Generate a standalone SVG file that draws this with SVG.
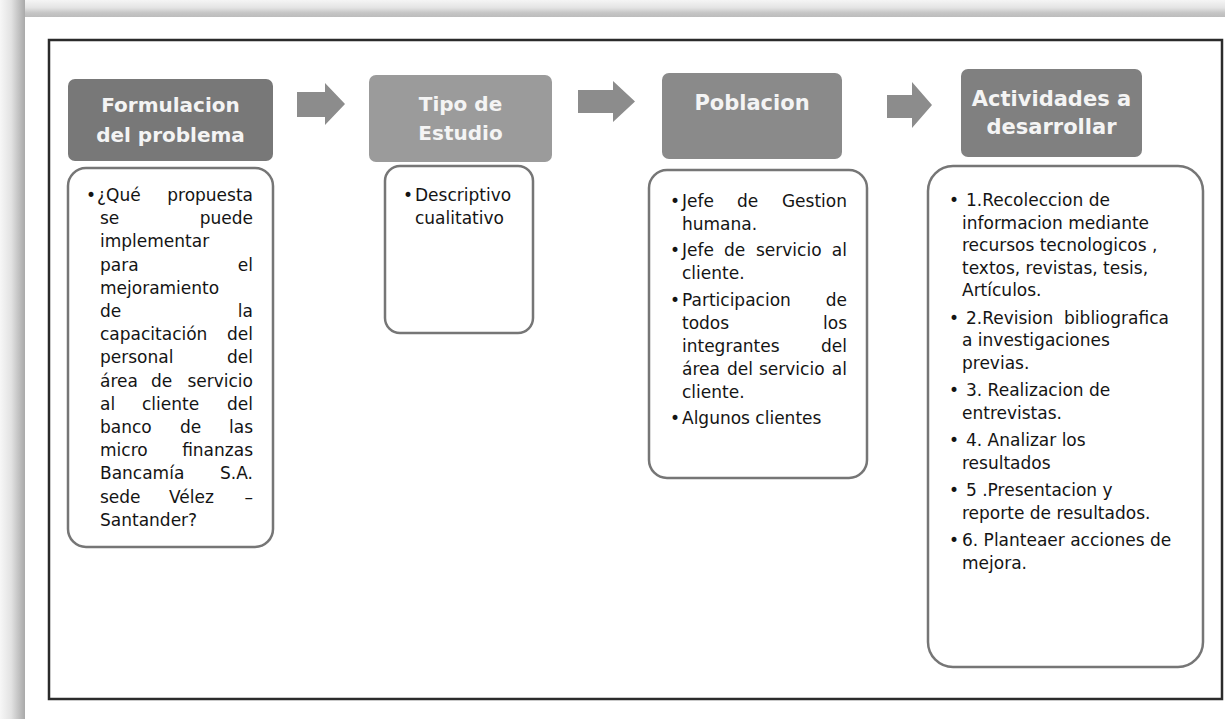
<svg xmlns="http://www.w3.org/2000/svg" width="1225" height="719" viewBox="0 0 1225 719">
<defs>
<linearGradient id="gTop" x1="0" y1="0" x2="0" y2="1">
<stop offset="0" stop-color="#f5f5f5"/><stop offset="0.45" stop-color="#e4e4e4"/><stop offset="0.75" stop-color="#c6c6c6"/><stop offset="1" stop-color="#bcbcbc"/>
</linearGradient>
<linearGradient id="gLeft" x1="0" y1="0" x2="1" y2="0">
<stop offset="0" stop-color="#f7f7f7"/><stop offset="0.45" stop-color="#e2e2e2"/><stop offset="0.8" stop-color="#bdbdbd"/><stop offset="1" stop-color="#a9a9a9"/>
</linearGradient>
<style>
.hdr{stroke:none}
.ht{font-family:"DejaVu Sans",sans-serif;font-weight:bold;fill:#f4f4f4;text-anchor:middle}
.body{fill:#ffffff;stroke:#767676;stroke-width:2.5}
.t{font-family:"DejaVu Sans",sans-serif;font-size:17px;fill:#141414}
.e{text-anchor:end}
.arrow{fill:#8c8c8c}
</style>
</defs>
<rect x="0" y="0" width="1225" height="719" fill="#ffffff"/>
<rect x="0" y="0" width="1225" height="17" fill="url(#gTop)"/>
<rect x="0" y="0" width="25" height="719" fill="url(#gLeft)"/>
<rect x="49" y="40" width="1173" height="659" fill="none" stroke="#2b2b2b" stroke-width="2.5"/>

<g id="connectors">
<polygon class="arrow" points="297,92 325,92 325,83 345,104 325,125 325,117 297,117"/>
<polygon class="arrow" points="578,90 613,90 613,81 635,101.5 613,122 613,113 578,113"/>
<polygon class="arrow" points="887,95 912,95 912,82 932,105 912,128 912,118 887,118"/>
</g>

<g id="node-formulacion">
<rect class="hdr" x="68" y="79" width="205" height="82" rx="7" fill="#787878"/>
<text class="ht" font-size="20" x="170.5" y="112">Formulacion</text>
<text class="ht" font-size="20" x="170.5" y="142">del problema</text>
<rect class="body" x="68" y="168" width="205" height="379" rx="18"/>
<text class="t" x="86" y="201">•</text>
<text class="t" x="97" y="201">¿Qué</text><text class="t e" x="253" y="201">propuesta</text>
<text class="t" x="100" y="224.2">se</text><text class="t e" x="253" y="224.2">puede</text>
<text class="t" x="100" y="247.4">implementar</text>
<text class="t" x="100" y="270.6">para</text><text class="t e" x="253" y="270.6">el</text>
<text class="t" x="100" y="293.8">mejoramiento</text>
<text class="t" x="100" y="317">de</text><text class="t e" x="253" y="317">la</text>
<text class="t" x="100" y="340.2">capacitación</text><text class="t e" x="253" y="340.2">del</text>
<text class="t" x="100" y="363.4">personal</text><text class="t e" x="253" y="363.4">del</text>
<text class="t" x="100" y="386.6">área</text><text class="t" x="151" y="386.6">de</text><text class="t e" x="253" y="386.6">servicio</text>
<text class="t" x="100" y="409.8">al</text><text class="t" x="142" y="409.8">cliente</text><text class="t e" x="253" y="409.8">del</text>
<text class="t" x="100" y="433">banco</text><text class="t" x="180" y="433">de</text><text class="t e" x="253" y="433">las</text>
<text class="t" x="100" y="456.2">micro</text><text class="t e" x="253" y="456.2">finanzas</text>
<text class="t" x="100" y="479.4">Bancamía</text><text class="t e" x="253" y="479.4">S.A.</text>
<text class="t" x="100" y="502.6">sede</text><text class="t" x="169" y="502.6">Vélez</text><text class="t e" x="253" y="502.6">–</text>
<text class="t" x="100" y="525.8">Santander?</text>
</g>

<g id="node-tipo">
<rect class="hdr" x="369" y="75" width="183" height="87" rx="7" fill="#9b9b9b"/>
<text class="ht" font-size="20" x="460.5" y="111">Tipo de</text>
<text class="ht" font-size="20" x="460.5" y="140">Estudio</text>
<rect class="body" x="385" y="166" width="148" height="167" rx="15"/>
<text class="t" x="403" y="201">•</text>
<text class="t" x="415" y="201">Descriptivo</text>
<text class="t" x="415" y="224">cualitativo</text>
</g>

<g id="node-poblacion">
<rect class="hdr" x="662" y="73" width="180" height="86" rx="7" fill="#8a8a8a"/>
<text class="ht" font-size="21" x="752" y="110">Poblacion</text>
<rect class="body" x="649" y="170" width="218" height="308" rx="18"/>
<text class="t" x="670" y="207">•</text>
<text class="t" x="682" y="207">Jefe</text><text class="t" x="737" y="207">de</text><text class="t e" x="847" y="207">Gestion</text>
<text class="t" x="682" y="230">humana.</text>
<text class="t" x="670" y="256">•</text>
<text class="t" x="682" y="256">Jefe</text><text class="t" x="724" y="256">de</text><text class="t" x="756" y="256">servicio</text><text class="t e" x="847" y="256">al</text>
<text class="t" x="682" y="279">cliente.</text>
<text class="t" x="670" y="306">•</text>
<text class="t" x="682" y="306">Participacion</text><text class="t e" x="847" y="306">de</text>
<text class="t" x="682" y="329">todos</text><text class="t e" x="847" y="329">los</text>
<text class="t" x="682" y="352">integrantes</text><text class="t e" x="847" y="352">del</text>
<text class="t" x="682" y="375">área</text><text class="t" x="727" y="375">del</text><text class="t" x="759" y="375">servicio</text><text class="t e" x="847" y="375">al</text>
<text class="t" x="682" y="398">cliente.</text>
<text class="t" x="670" y="424">•</text>
<text class="t" x="682" y="424">Algunos clientes</text>
</g>

<g id="node-actividades">
<rect class="hdr" x="961" y="69" width="181" height="88" rx="7" fill="#808080"/>
<text class="ht" font-size="21" x="1051.5" y="106">Actividades a</text>
<text class="ht" font-size="21" x="1051.5" y="134">desarrollar</text>
<rect class="body" x="928" y="166" width="275" height="501" rx="25"/>
<text class="t" x="949" y="206">•</text>
<text class="t" x="966" y="206">1.Recoleccion de</text>
<text class="t" x="962" y="228.5">informacion mediante</text>
<text class="t" x="962" y="251">recursos tecnologicos ,</text>
<text class="t" x="962" y="273.5">textos, revistas, tesis,</text>
<text class="t" x="962" y="296">Artículos.</text>
<text class="t" x="949" y="323.5">•</text>
<text class="t" x="966" y="323.5" xml:space="preserve">2.Revision  bibliografica</text>
<text class="t" x="962" y="346">a investigaciones</text>
<text class="t" x="962" y="368.5">previas.</text>
<text class="t" x="949" y="396">•</text>
<text class="t" x="966" y="396">3. Realizacion de</text>
<text class="t" x="962" y="418.5">entrevistas.</text>
<text class="t" x="949" y="446">•</text>
<text class="t" x="966" y="446">4. Analizar los</text>
<text class="t" x="962" y="468.5">resultados</text>
<text class="t" x="949" y="496">•</text>
<text class="t" x="966" y="496">5 .Presentacion y</text>
<text class="t" x="962" y="518.5">reporte de resultados.</text>
<text class="t" x="949" y="546">•</text>
<text class="t" x="962" y="546">6. Planteaer acciones de</text>
<text class="t" x="962" y="568.5">mejora.</text>
</g>
</svg>
